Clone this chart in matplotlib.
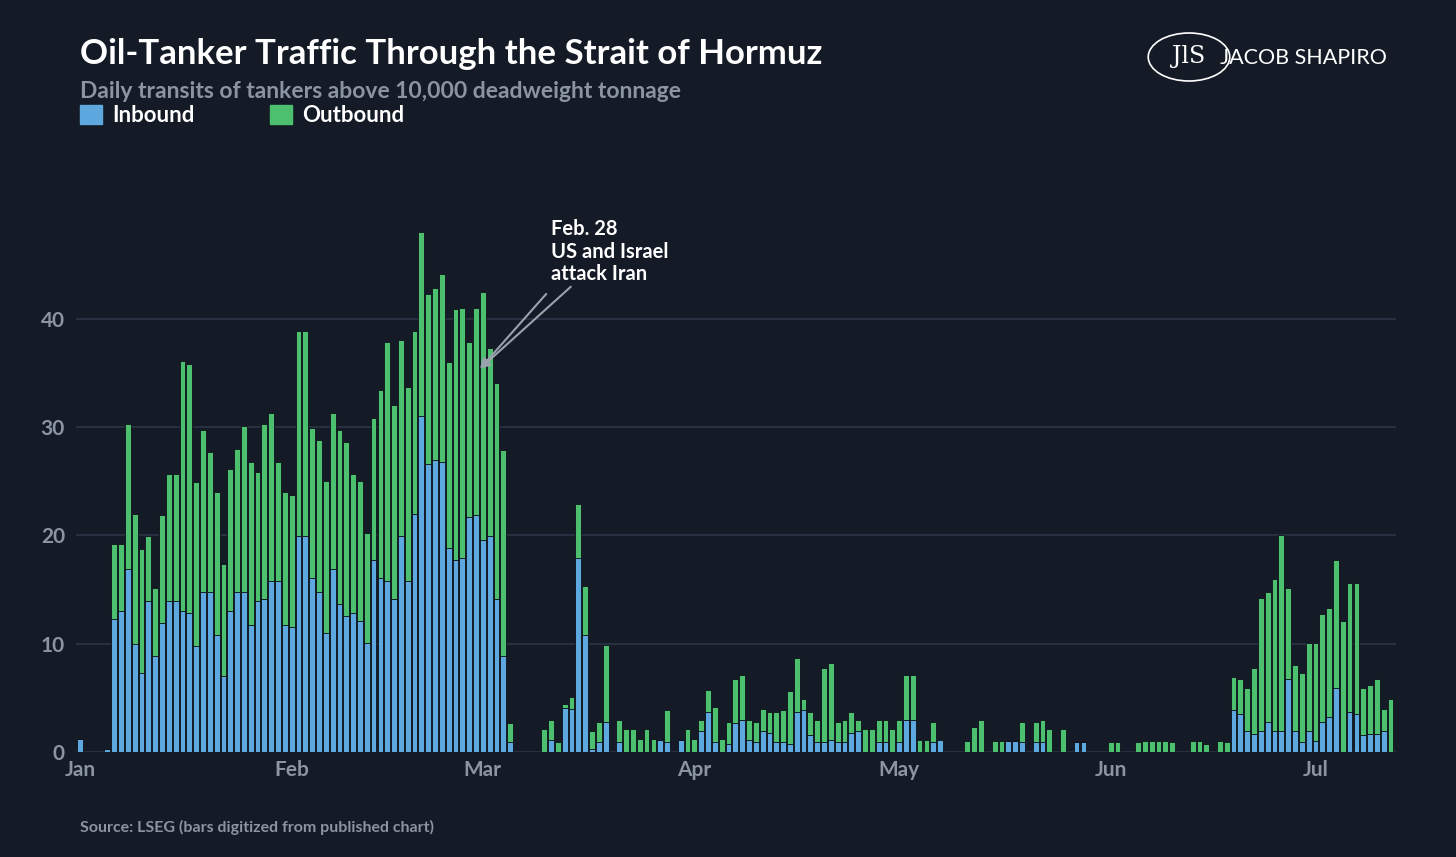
import numpy as np
import matplotlib.pyplot as plt
from matplotlib.patches import Circle

# daily totals (inbound + outbound) and inbound, day 0 = Jan 1
total = [
    1.2, 0, 0, 0, 0.3, 19.2, 19.2, 30.3, 22.0, 18.7, 19.9, 15.1, 21.9, 25.7, 25.7, 36.1,
    35.8, 24.9, 29.7, 27.7, 24.0, 17.4, 26.1, 28.0, 30.1, 26.8, 25.9, 30.3, 31.3, 26.8,
    24.0, 23.7, 38.9, 38.9, 29.9, 28.8, 25.0, 31.3, 29.7, 28.6, 25.7, 25.0, 20.2, 30.8,
    33.4, 37.9, 32.0, 38.0, 33.7, 38.9, 48.0, 42.3, 42.8, 44.1, 36.0, 40.9, 41.0, 37.9,
    41.0, 42.5, 37.3, 34.1, 27.9, 2.7, 0, 0, 0, 0, 2.1, 3.0, 0.9, 4.4, 5.1, 22.9, 15.3,
    1.9, 2.8, 9.9, 0, 3.0, 2.1, 2.1, 1.2, 2.1, 1.2, 1.1, 3.9, 0, 1.1, 2.1, 1.2, 3.0, 5.7,
    4.2, 1.2, 2.8, 6.7, 7.1, 3.0, 2.8, 4.0, 3.7, 3.7, 3.9, 5.6, 8.7, 4.9, 3.7, 3.0, 7.8,
    8.2, 2.8, 3.0, 3.7, 3.0, 2.1, 2.1, 3.0, 3.0, 2.1, 3.0, 7.1, 7.1, 1.1, 1.1, 2.8, 1.2,
    0, 0, 0, 1.0, 2.3, 3.0, 0, 1.0, 1.0, 1.0, 1.0, 2.8, 0, 2.8, 3.0, 2.1, 0, 2.1, 0, 0.9,
    0.9, 0, 0, 0, 0.9, 0.9, 0, 0, 0.9, 1.0, 1.0, 1.0, 1.0, 0.9, 0, 0, 1.0, 1.0, 0.7, 0,
    1.0, 0.9, 6.9, 6.7, 5.9, 7.8, 14.2, 14.8, 16.0, 20.0, 15.1, 8.0, 7.3, 10.1, 10.1,
    12.7, 13.3, 17.7, 12.1, 15.6, 15.6, 5.9, 6.2, 6.7, 4.0, 4.9,
]
inbound = [
    1.2, 0, 0, 0, 0.3, 12.3, 13.0, 16.9, 10.0, 7.3, 13.9, 8.9, 11.9, 13.9, 13.9, 13.0,
    12.8, 9.8, 14.8, 14.8, 10.8, 7.0, 13.0, 14.8, 14.8, 11.7, 13.9, 14.1, 15.8, 15.8,
    11.7, 11.5, 19.9, 19.9, 16.1, 14.8, 11.0, 16.9, 13.7, 12.6, 12.8, 12.1, 10.1, 17.7,
    16.1, 15.8, 14.1, 19.9, 15.8, 22.0, 31.0, 26.6, 27.0, 26.8, 18.8, 17.7, 17.9, 21.7,
    21.9, 19.6, 19.9, 14.1, 8.9, 0.9, 0, 0, 0, 0, 0, 1.1, 0, 4.1, 4.0, 17.9, 10.8,
    0.3, 0.9, 2.8, 0, 0.9, 0, 0, 0, 0, 0, 1.1, 0.9, 0, 1.1, 0, 0, 1.9, 3.7,
    0.9, 0, 0.7, 2.7, 3.0, 1.1, 0.9, 1.9, 1.8, 0.9, 0.9, 0.7, 3.7, 3.9, 1.6, 0.9, 0.9,
    1.1, 0.9, 0.9, 1.8, 1.9, 0, 0, 0.9, 0.9, 0, 0.9, 3.0, 3.0, 0, 0, 0.9, 1.1,
    0, 0, 0, 0, 0, 0, 0, 0, 0, 1.0, 1.0, 0.9, 0, 0.9, 0.9, 0, 0, 0, 0, 0.9,
    0.9, 0, 0, 0, 0, 0, 0, 0, 0, 0, 0, 0, 0, 0, 0, 0, 0, 0, 0, 0,
    0, 0, 3.9, 3.5, 1.9, 1.7, 1.9, 2.8, 1.9, 1.9, 6.7, 1.9, 0.9, 1.9, 1.0,
    2.8, 3.2, 5.9, 0, 3.7, 3.5, 1.6, 1.7, 1.7, 1.9, 0,
]
month_days = [0, 31, 59, 90, 120, 151, 181]
month_labels = ["Jan", "Feb", "Mar", "Apr", "May", "Jun", "Jul"]

total = np.array(total)
inbound = np.array(inbound)
outbound = total - inbound
days = np.arange(len(total))

BG = "#141b26"
BLUE = "#5ea8e0"
GREEN = "#4cc06f"
GRAY = "#8b94a3"
plt.rcParams["font.family"] = ["Lato", "DejaVu Sans"]

fig = plt.figure(figsize=(14.56, 8.57), dpi=100, facecolor=BG)
ax = fig.add_axes([76 / 1456, 105 / 857, 1320 / 1456, 522 / 857], facecolor=BG)

ax.bar(days, inbound, width=0.85, color=BLUE, edgecolor="#0d1219", linewidth=0.6)
ax.bar(days, outbound, bottom=inbound, width=0.85, color=GREEN, edgecolor="#0d1219", linewidth=0.6)

ax.set_xlim(-0.6, 192.8)
ax.set_ylim(0, 48.2)
ax.set_yticks([0, 10, 20, 30, 40])
ax.set_xticks(month_days)
ax.set_xticklabels(month_labels)
ax.grid(axis="y", color="#2a3547", linewidth=1.2)
ax.set_axisbelow(True)
for s in ax.spines.values():
    s.set_visible(False)
ax.tick_params(length=0, colors=GRAY, labelsize=15, pad=6)
for t in ax.get_xticklabels() + ax.get_yticklabels():
    t.set_fontweight("bold")
ax.tick_params(axis="y", pad=8)

ax.annotate("Feb. 28\nUS and Israel\nattack Iran", xy=(58.6, 35.4), xytext=(69, 49.2),
            color="white", fontsize=14.5, fontweight="bold", ha="left", va="top",
            annotation_clip=False, linespacing=1.15,
            arrowprops=dict(arrowstyle="-|>", color="#9aa2ad", lw=1.5,
                            shrinkA=0, shrinkB=0, mutation_scale=14),
            textcoords="data")
# arrow starts below the text block
ax.annotate("", xy=(58.6, 35.4), xytext=(68.3, 42.3),
            arrowprops=dict(arrowstyle="-|>", color="#9aa2ad", lw=1.5,
                            shrinkA=0, shrinkB=0, mutation_scale=14))

fig.text(80 / 1456, 1 - 54 / 857, "Oil-Tanker Traffic Through the Strait of Hormuz",
         color="white", fontsize=25, fontweight="bold", va="center")
fig.text(80 / 1456, 1 - 91 / 857, "Daily transits of tankers above 10,000 deadweight tonnage",
         color=GRAY, fontsize=16.5, fontweight="bold", va="center")
for lx, lab, col in [(80, "Inbound", BLUE), (270, "Outbound", GREEN)]:
    fig.patches.append(plt.Rectangle((lx / 1456, 1 - 124 / 857), 22 / 1456, 19 / 857,
                                     transform=fig.transFigure, color=col))
    fig.text((lx + 32) / 1456, 1 - 115 / 857, lab, color="white", fontsize=16,
             fontweight="bold", va="center")

fig.patches.append(Circle((1189 / 1456, 1 - 57 / 857), 24 / 857, transform=fig.transFigure,
                          fill=False, edgecolor="white", lw=1.2))
fig.text(1189 / 1456, 1 - 57 / 857, "JlS", color="white", fontsize=17, family="DejaVu Serif",
         ha="center", va="center")
fig.text(1220 / 1456, 1 - 58 / 857, "JACOB SHAPIRO", color="white", fontsize=15.5,
         va="center")

fig.text(80 / 1456, 1 - 827 / 857, "Source: LSEG (bars digitized from published chart)",
         color=GRAY, fontsize=11.5, fontweight="bold", va="center")

fig.savefig("out.png", dpi=100, facecolor=BG)
